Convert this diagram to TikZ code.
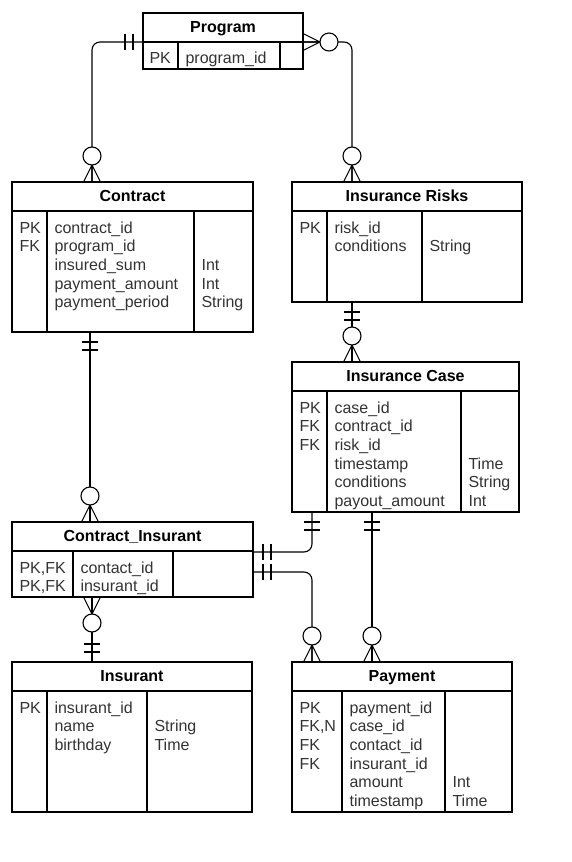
\documentclass[tikz,border=0pt]{standalone}
\usepackage{fontspec}
\setmainfont{Liberation Sans}
\usetikzlibrary{calc}
\definecolor{txt}{HTML}{333333}
\tikzset{
 tbl/.style={draw, anchor=north west, inner sep=0pt, outer sep=0pt},
 ttl/.style={anchor=base, font=\fontsize{16}{19}\selectfont\bfseries, inner sep=0pt, text=black},
 fld/.style={anchor=base west, font=\fontsize{16}{19}\selectfont, inner sep=0pt, text=txt},
 conn/.style={rounded corners=8pt},
 one/.pic={\draw (10,-8) -- (10,8) (18,-8) -- (18,8);},
 zmany/.pic={\draw (0,-8.5) -- (17,0) -- (0,8.5) (0,0) -- (17,0); \draw[fill=white] (26,0) circle[radius=9pt];}
}
\newcommand\ent[8]{%
 \node[tbl, minimum width=#4pt, minimum height=#5pt] (#1) at (#2,#3) {};
 \node[ttl] (#1-t) at ($(#1.north)+(0,19)$) {#6};
 \draw ([yshift=-29pt]#1.north west) -- ([yshift=-29pt]#1.north east);
 \draw ([xshift=#7pt,yshift=-29pt]#1.north west) -- ([xshift=#7pt]#1.south west);
 \draw ([xshift=#8pt,yshift=-29pt]#1.north west) -- ([xshift=#8pt]#1.south west);
}
\newcommand\tcol[4]{\foreach \t [count=\i] in {#4} \node[fld] (#1-\i) at (#2, {#3+18.7*(\i-1)}) {\t};}
\begin{document}
\begin{tikzpicture}[x=1pt,y=-1pt,line width=1.1pt]
\useasboundingbox (0,0) rectangle (572,862);
\fill[white] (0,0) rectangle (572,862);

\ent{program}{143}{13}{160}{56}{Program}{35}{137}
\ent{contract}{12}{182}{241}{150}{Contract}{35}{182}
\ent{risks}{292}{182}{230}{120}{Insurance Risks}{35}{130}
\ent{case}{292}{362}{227}{150}{Insurance Case}{35}{169}
\ent{ci}{12}{522}{241}{75}{Contract\_Insurant}{61}{161}
\ent{insurant}{12}{662}{240}{150}{Insurant}{35}{135}
\ent{payment}{292}{662}{220}{150}{Payment}{50}{153}

\tcol{pk}{149}{63}{PK}
\tcol{pf}{185}{63}{program\_id}
\tcol{ck}{19}{233}{PK,FK}
\tcol{cf}{54}{233}{contract\_id,program\_id,insured\_sum,payment\_amount,payment\_period}
\tcol{cy}{201}{270.4}{Int,Int,String}
\tcol{rk}{299}{233}{PK}
\tcol{rf}{334}{233}{risk\_id,conditions}
\tcol{ry}{429}{251.7}{String}
\tcol{kk}{299}{413}{PK,FK,FK}
\tcol{kf}{334}{413}{case\_id,contract\_id,risk\_id,timestamp,conditions,payout\_amount}
\tcol{ky}{468}{469.1}{Time,String,Int}
\tcol{ik}{19}{573}{{PK,FK},{PK,FK}}
\tcol{if}{80}{573}{contact\_id,insurant\_id}
\tcol{sk}{19}{713}{PK}
\tcol{sf}{54}{713}{insurant\_id,name,birthday}
\tcol{sy}{154}{731.7}{String,Time}
\tcol{yk}{299}{713}{PK,{FK,N},FK,FK}
\tcol{yf}{349}{713}{payment\_id,case\_id,contact\_id,insurant\_id,amount,timestamp}
\tcol{yy}{452}{787.8}{Int,Time}

\coordinate (pL) at ($(program.north west)+(0,29)$);
\coordinate (pR) at ($(program.north east)+(0,29)$);
\coordinate (cT) at ($(contract.north west)+(80,0)$);
\coordinate (rT) at ($(risks.north west)+(60,0)$);
\coordinate (cB) at ($(contract.south west)+(78,0)$);
\coordinate (ciT) at ($(ci.north west)+(78,0)$);
\coordinate (rB) at ($(risks.south west)+(60,0)$);
\coordinate (kT) at ($(case.north west)+(60,0)$);
\coordinate (ciB) at ($(ci.south west)+(80,0)$);
\coordinate (iT) at ($(insurant.north west)+(80,0)$);
\coordinate (kB1) at ($(case.south west)+(20,0)$);
\coordinate (kB2) at ($(case.south west)+(80,0)$);
\coordinate (ciR1) at ($(ci.north east)+(0,30)$);
\coordinate (ciR2) at ($(ci.north east)+(0,50)$);
\coordinate (yT1) at ($(payment.north west)+(20,0)$);
\coordinate (yT2) at ($(payment.north west)+(80,0)$);

\draw[conn] (pL) -| (cT);
\draw[conn] (pR) -| (rT);
\draw (cB) -- (ciT);
\draw (rB) -- (kT);
\draw (ciB) -- (iT);
\draw[conn] (kB1) |- (ciR1);
\draw[conn] (ciR2) -| (yT1);
\draw (kB2) -- (yT2);

\pic[rotate=180] at (pL) {one};
\pic[rotate=90] at (cT) {zmany};
\pic at (pR) {zmany};
\pic[rotate=90] at (rT) {zmany};
\pic[rotate=-90] at (cB) {one};
\pic[rotate=90] at (ciT) {zmany};
\pic[rotate=-90] at (rB) {one};
\pic[rotate=90] at (kT) {zmany};
\pic[rotate=-90] at (ciB) {zmany};
\pic[rotate=90] at (iT) {one};
\pic[rotate=-90] at (kB1) {one};
\pic at (ciR1) {one};
\pic at (ciR2) {one};
\pic[rotate=90] at (yT1) {zmany};
\pic[rotate=-90] at (kB2) {one};
\pic[rotate=90] at (yT2) {zmany};
\end{tikzpicture}
\end{document}
